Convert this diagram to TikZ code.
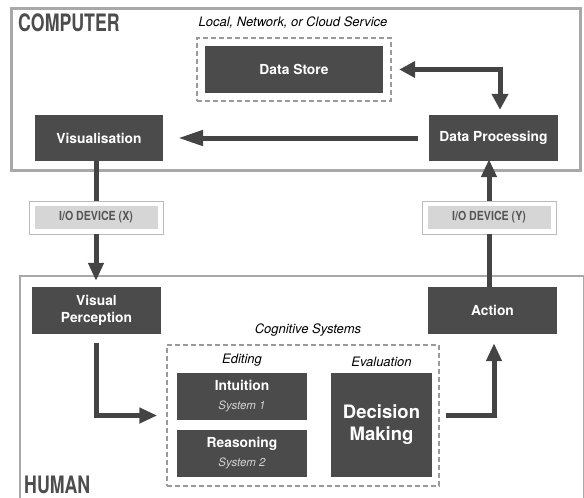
\documentclass[tikz,border=0pt]{standalone}
\usepackage{fontspec}
\setmainfont{TeX Gyre Heros}
\newfontfamily\condfont[FakeStretch=0.74]{TeX Gyre Heros}
\newfontfamily\iofont[FakeStretch=0.85]{TeX Gyre Heros}
\usetikzlibrary{arrows.meta,positioning}

\definecolor{boxgray}{HTML}{4B4B4B}
\definecolor{arrowgray}{HTML}{444444}
\definecolor{framegray}{HTML}{A8A8A8}
\definecolor{dashgray}{HTML}{9A9A9A}
\definecolor{iofill}{HTML}{D6D6D6}
\definecolor{ioframe}{HTML}{BBBBBB}
\definecolor{iotext}{HTML}{555555}
\definecolor{systext}{HTML}{D2D2D2}
\definecolor{titletext}{HTML}{4D4D4D}

\newcommand{\syslabel}[1]{{\fontsize{11.5}{13}\selectfont\mdseries\itshape\color{systext}#1}}

\tikzset{
  procbox/.style={rectangle, fill=boxgray, text=white, inner sep=0pt, align=center,
    font=\fontsize{13.8}{17}\selectfont\bfseries},
  grpbox/.style={rectangle, draw=dashgray, line width=1.5pt, dash pattern=on 5pt off 3pt, inner sep=0pt},
  layer/.style={rectangle, draw=framegray, line width=3pt, inner sep=0pt},
  ioframe/.style={rectangle, draw=ioframe, line width=0.8pt, fill=white,
    minimum width=134pt, minimum height=33pt, inner sep=0pt},
  iolabel/.style={rectangle, fill=iofill, text=iotext, minimum width=123pt, minimum height=23pt,
    inner sep=0pt, font=\iofont\fontsize{12.5}{14}\selectfont\bfseries},
  caption/.style={font=\fontsize{13}{15}\selectfont\itshape, inner sep=0pt},
  layertitle/.style={font=\condfont\fontsize{24}{26}\selectfont\bfseries, text=titletext, inner sep=0pt, anchor=base west},
  flow/.style={line width=5pt, draw=arrowgray, -{Triangle[width=15pt,length=18pt]}}
}

\begin{document}
\begin{tikzpicture}[x=1pt,y=-1pt]
    \useasboundingbox (0,0) rectangle (584,498);
    \clip (0,0) rectangle (584,498);

    % Layers
    \node[layer, minimum width=569pt, minimum height=162pt] (computer) at (296,89.5) {};
    \node[layer, line width=2pt, minimum width=564pt, minimum height=240pt] (human) at (301.5,395.5) {};
    \node[layertitle] (comptitle) at (18,31) {COMPUTER};
    \node[layertitle] (humtitle) at (24,493) {HUMAN};

    % Computer side
    \node[procbox, minimum width=178pt, minimum height=47pt] (dstore) at (294,69.5) {Data Store};
    \node[grpbox, minimum width=194pt, minimum height=63pt] (storegrp) at (294,69.5) {};
    \node[caption] (storecap) at (293,23) {Local, Network, or Cloud Service};
    \node[procbox, minimum width=128pt, minimum height=46pt] (vis) at (99,138) {Visualisation};
    \node[procbox, minimum width=129pt, minimum height=46pt] (dproc) at (493.5,138) {Data Processing};

    % I/O devices
    \node[ioframe] (iox) at (96,217.5) {};
    \node[iolabel] (ioxlab) at (iox) {I/O DEVICE (X)};
    \node[ioframe] (ioy) at (489,217.5) {};
    \node[iolabel] (ioylab) at (ioy) {I/O DEVICE (Y)};

    % Human side
    \node[procbox, minimum width=129pt, minimum height=47pt] (vperc) at (96.5,310.5) {Visual\\Perception};
    \node[procbox, minimum width=129pt, minimum height=47pt] (action) at (492.5,310.5) {Action};
    \node[grpbox, minimum width=272pt, minimum height=141pt] (cogbox) at (303,415.5) {};
    \node[caption] (cogcap) at (308,330) {Cognitive Systems};
    \node[procbox, minimum width=130pt, minimum height=47pt] (intuit) at (242,396.5)
        {Intuition\\[2pt]\syslabel{System 1}};
    \node[procbox, minimum width=130pt, minimum height=47pt] (reason) at (242,453.5)
        {Reasoning\\[2pt]\syslabel{System 2}};
    \node[procbox, minimum width=101pt, minimum height=104pt,
          font=\fontsize{18.5}{22}\selectfont\bfseries] (decide) at (381.5,425) {Decision\\Making};
    \node[caption, above=6pt of intuit] (editcap) {Editing};
    \node[caption, above=6pt of decide] (evalcap) {Evaluation};

    % Arrows
    \draw[flow, -{Triangle[width=15pt,length=25pt]}, shorten <=11pt, shorten >=15pt] (dproc) -- (vis);
    \draw[flow, {Triangle[width=16pt,length=16pt]}-{Triangle[width=16pt,length=16pt]},
          shorten <=16pt, shorten >=5pt] (dstore.east) -| ([xshift=6.5pt]dproc.north);
    \draw[flow, -] (vis.south -| iox) -- (iox);
    \draw[flow, shorten >=6pt] (iox) -- (iox |- vperc.north);
    \draw[flow, -] (action.north -| ioy) -- (ioy);
    \draw[flow, shorten >=-2pt] (ioy) -- (ioy |- dproc.south);
    \draw[flow, shorten <=9pt, shorten >=9pt] (vperc.south) |- (cogbox.west);
    \draw[flow, shorten <=6pt, shorten >=9pt] (cogbox.east) -| ([xshift=1.5pt]action.south);
\end{tikzpicture}
\end{document}
